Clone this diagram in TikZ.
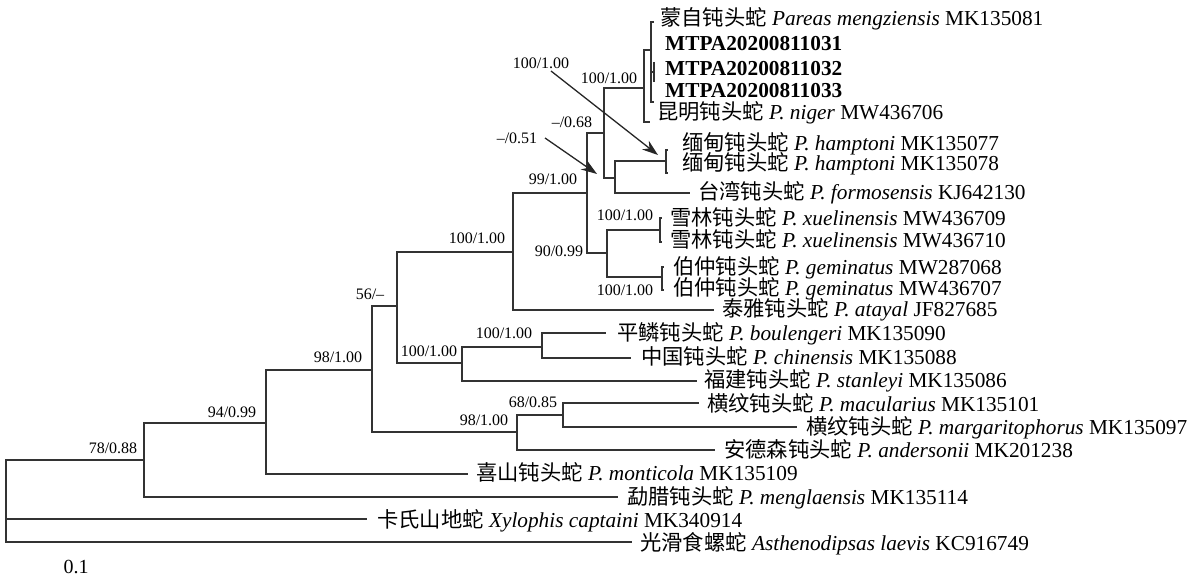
\documentclass[tikz,border=0pt]{standalone}
\usepackage{fontspec}
\setmainfont{Liberation Serif}
\newfontfamily\cjk{Noto Sans CJK SC}
\usetikzlibrary{arrows.meta}
\begin{document}
\begin{tikzpicture}[x=1pt,y=-1pt,
  br/.style={line width=1.2pt, draw=black!80},
  leaf/.style={anchor=base west, inner sep=0pt, font=\fontsize{21.3}{24}\selectfont},
  sup/.style={inner sep=0pt, font=\fontsize{16}{18}\selectfont},
  pointer/.style={line width=1.3pt, draw=black!85, -{Stealth[length=16pt,width=11pt]}}]
\useasboundingbox (0,0) rectangle (1194,580);

% ---------- inner nodes ----------
\coordinate (r) at (6,500);
\coordinate (n144) at (144,460);
\coordinate (n266) at (266,423);
\coordinate (n372) at (372,370);
\coordinate (n397) at (397,306);
\coordinate (n513) at (513,252);
\coordinate (n587) at (587,193);
\coordinate (n604) at (604,133);
\coordinate (n644) at (644,88);
\coordinate (n651) at (651,50);
\coordinate (n654) at (654,72);
\coordinate (n615) at (615,178);
\coordinate (nham) at (666,161);
\coordinate (n607) at (607,253);
\coordinate (nxue) at (660,230);
\coordinate (nbo) at (662,277);
\coordinate (n462) at (462,363);
\coordinate (n542) at (542,347);
\coordinate (n517) at (517,432);
\coordinate (n563) at (563,415);

% ---------- leaf ends ----------
\coordinate (e1) at (654,22);
\coordinate (e102) at (654,102);
\coordinate (m1) at (654,62);
\coordinate (m2) at (654,82);
\coordinate (e5) at (650,122);
\coordinate (e6) at (668,150);
\coordinate (e7) at (668,173);
\coordinate (e8) at (690,193);
\coordinate (e9) at (662,218);
\coordinate (e10) at (662,242);
\coordinate (e11) at (664,267);
\coordinate (e12) at (664,290);
\coordinate (e13) at (714,310);
\coordinate (e14) at (606,333);
\coordinate (e15) at (631,358);
\coordinate (e16) at (697,381);
\coordinate (e17) at (699,403);
\coordinate (e18) at (797,427);
\coordinate (e19) at (715,450);
\coordinate (e20) at (468,474);
\coordinate (e21) at (618,497);
\coordinate (e22) at (367,519);
\coordinate (e23) at (632,542);

% ---------- branches ----------
\draw[br] (r) |- (n144);
\draw[br] (r) |- (e22);
\draw[br] (r) |- (e23);
\draw[br] (n144) |- (n266);
\draw[br] (n144) |- (e21);
\draw[br] (n266) |- (n372);
\draw[br] (n266) |- (e20);
\draw[br] (n372) |- (n397);
\draw[br] (n372) |- (n517);
\draw[br] (n397) |- (n513);
\draw[br] (n397) |- (n462);
\draw[br] (n513) |- (n587);
\draw[br] (n513) |- (e13);
\draw[br] (n587) |- (n604);
\draw[br] (n587) |- (n607);
\draw[br] (n604) |- (n644);
\draw[br] (n604) |- (n615);
\draw[br] (n644) |- (n651);
\draw[br] (n644) |- (e5);
\draw[br] (n651) |- (e1);
\draw[br] (n651) |- (e102);
\draw[br] (n651) -- (n651 |- n654) -- (n654);
\draw[br, line width=1.8pt] (m1) -- (m2);
\draw[br] (n615) |- (nham);
\draw[br] (n615) |- (e8);
\draw[br] (nham) |- (e6);
\draw[br] (nham) |- (e7);
\draw[br] (n607) |- (nxue);
\draw[br] (n607) |- (nbo);
\draw[br] (nxue) |- (e9);
\draw[br] (nxue) |- (e10);
\draw[br] (nbo) |- (e11);
\draw[br] (nbo) |- (e12);
\draw[br] (n462) |- (n542);
\draw[br] (n462) |- (e16);
\draw[br] (n542) |- (e14);
\draw[br] (n542) |- (e15);
\draw[br] (n517) |- (n563);
\draw[br] (n517) |- (e19);
\draw[br] (n563) |- (e17);
\draw[br] (n563) |- (e18);

% ---------- leaf labels ----------
\node[leaf] (L1) at (660,25.5) {{\cjk 蒙自钝头蛇} \textit{Pareas mengziensis} MK135081};
\node[leaf] (L2) at (665,50.5) {\textbf{MTPA20200811031}};
\node[leaf] (L3) at (665,75.5) {\textbf{MTPA20200811032}};
\node[leaf] (L4) at (665,97.5) {\textbf{MTPA20200811033}};
\node[leaf] (L5) at (657,119.5) {{\cjk 昆明钝头蛇} \textit{P. niger} MW436706};
\node[leaf] (L6) at (682,150.5) {{\cjk 缅甸钝头蛇} \textit{P. hamptoni} MK135077};
\node[leaf] (L7) at (682,170.5) {{\cjk 缅甸钝头蛇} \textit{P. hamptoni} MK135078};
\node[leaf] (L8) at (698,199.5) {{\cjk 台湾钝头蛇} \textit{P. formosensis} KJ642130};
\node[leaf] (L9) at (670,225.5) {{\cjk 雪林钝头蛇} \textit{P. xuelinensis} MW436709};
\node[leaf] (L10) at (670,247.5) {{\cjk 雪林钝头蛇} \textit{P. xuelinensis} MW436710};
\node[leaf] (L11) at (673,274.5) {{\cjk 伯仲钝头蛇} \textit{P. geminatus} MW287068};
\node[leaf] (L12) at (673,295.5) {{\cjk 伯仲钝头蛇} \textit{P. geminatus} MW436707};
\node[leaf] (L13) at (722,316.5) {{\cjk 泰雅钝头蛇} \textit{P. atayal} JF827685};
\node[leaf] (L14) at (617,340.5) {{\cjk 平鳞钝头蛇} \textit{P. boulengeri} MK135090};
\node[leaf] (L15) at (641,364.5) {{\cjk 中国钝头蛇} \textit{P. chinensis} MK135088};
\node[leaf] (L16) at (704,387.5) {{\cjk 福建钝头蛇} \textit{P. stanleyi} MK135086};
\node[leaf] (L17) at (707,411.5) {{\cjk 横纹钝头蛇} \textit{P. macularius} MK135101};
\node[leaf] (L18) at (806,434.5) {{\cjk 横纹钝头蛇} \textit{P. margaritophorus} MK135097};
\node[leaf] (L19) at (724,457.5) {{\cjk 安德森钝头蛇} \textit{P. andersonii} MK201238};
\node[leaf] (L20) at (476,480.5) {{\cjk 喜山钝头蛇} \textit{P. monticola} MK135109};
\node[leaf] (L21) at (627,504.5) {{\cjk 勐腊钝头蛇} \textit{P. menglaensis} MK135114};
\node[leaf] (L22) at (377,527.5) {{\cjk 卡氏山地蛇} \textit{Xylophis captaini} MK340914};
\node[leaf] (L23) at (640,550.5) {{\cjk 光滑食螺蛇} \textit{Asthenodipsas laevis} KC916749};

% ---------- support values ----------
\node[sup] (s1) at (541,63) {100/1.00};
\node[sup] (s2) at (609,78) {100/1.00};
\node[sup] (s3) at (572,122) {–/0.68};
\node[sup] (s4) at (517,138) {–/0.51};
\node[sup] (s5) at (553,179) {99/1.00};
\node[sup] (s6) at (477,238) {100/1.00};
\node[sup] (s7) at (559,251) {90/0.99};
\node[sup] (s8) at (625,215) {100/1.00};
\node[sup] (s9) at (625,290) {100/1.00};
\node[sup] (s10) at (370,294) {56/–};
\node[sup] (s11) at (429,351) {100/1.00};
\node[sup] (s12) at (504,333) {100/1.00};
\node[sup] (s13) at (338,357) {98/1.00};
\node[sup] (s14) at (533,402) {68/0.85};
\node[sup] (s15) at (484,420) {98/1.00};
\node[sup] (s16) at (232,412) {94/0.99};
\node[sup] (s17) at (113,448) {78/0.88};
\node[inner sep=0pt, font=\fontsize{20}{24}\selectfont] (scale) at (76,567) {0.1};

% ---------- pointer arrows ----------
\coordinate (a1s) at (551,71);
\coordinate (a1e) at (658,155);
\coordinate (a2s) at (545,138);
\coordinate (a2e) at (597,174);
\draw[pointer] (a1s) -- (a1e);
\draw[pointer] (a2s) -- (a2e);
\end{tikzpicture}
\end{document}
